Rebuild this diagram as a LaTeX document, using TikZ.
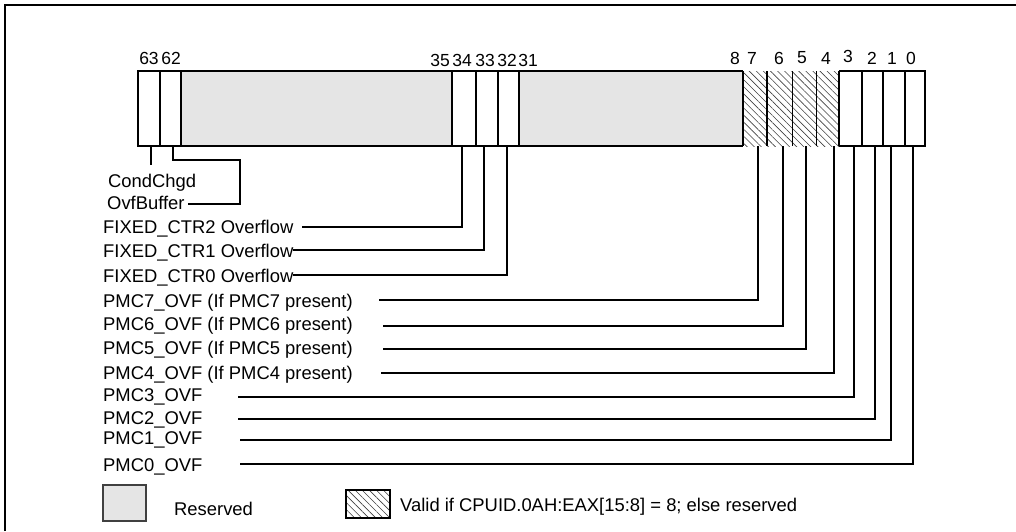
\documentclass[tikz,border=0pt]{standalone}
\usepackage{fontspec}
\setmainfont{Liberation Sans}
\usetikzlibrary{patterns.meta}

\tikzset{
    lbl/.style={anchor=base west, inner sep=0pt, font=\fontsize{18.4}{22}\selectfont},
    bitno/.style={inner sep=0pt, font=\fontsize{17.5}{20}\selectfont},
    leader/.style={line width=1.8pt},
    reg/.style={line width=1.8pt},
    resv/.style={fill=black!10},
    hatch/.style={pattern={Lines[angle=-45, distance=5pt, line width=0.6pt]}, pattern color=black!75}
}

\begin{document}
\begin{tikzpicture}[x=1pt, y=-1pt]
    \useasboundingbox (0,0) rectangle (1016,531);
    % Vẽ khung
    \draw[line width=1.8pt] (5,531) -- (5,5) -- (1016,5);

    % Vẽ thanh ghi
    \fill[resv] (181,71) rectangle (452,146);
    \fill[resv] (519,71) rectangle (743,146);
    \fill[hatch] (743,71) rectangle (839,146);
    \draw[reg] (743,71) -- (138,71) -- (138,146) -- (743,146);
    \draw[reg] (839,71) -- (925,71) -- (925,146) -- (839,146);
    \foreach \x in {160,181,452,476,498,519,743,767,839,862,883,905}
        \draw[reg] (\x,71) -- (\x,146);
    \foreach \x in {792,816}
        \draw[line width=0.9pt] (\x,71) -- (\x,146);

    % Số bit
    \foreach \b/\x/\y in {63/149/58, 62/171/58, 35/440/60, 34/462/60, 33/485/60,
        32/507/60, 31/528/60, 8/735/58, 7/752/58, 6/779/58, 5/802/58, 4/826/58,
        3/848/56, 2/872/58, 1/892/58, 0/911/58}
        \node[bitno] (n\b) at (\x,\y) {\b};

    % Nhãn
    \node[lbl] (condchgd) at (108,187) {CondChgd};
    \node[lbl] (ovfbuf) at (107,209) {OvfBuffer};
    \node[lbl] (fix2) at (103,233) {FIXED\_CTR2 Overflow};
    \node[lbl] (fix1) at (103,257) {FIXED\_CTR1 Overflow};
    \node[lbl] (fix0) at (103,282) {FIXED\_CTR0 Overflow};
    \node[lbl] (pmc7) at (103,307) {PMC7\_OVF (If PMC7 present)};
    \node[lbl] (pmc6) at (103,330) {PMC6\_OVF (If PMC6 present)};
    \node[lbl] (pmc5) at (103,354) {PMC5\_OVF (If PMC5 present)};
    \node[lbl] (pmc4) at (103,379) {PMC4\_OVF (If PMC4 present)};
    \node[lbl] (pmc3) at (103,401) {PMC3\_OVF};
    \node[lbl] (pmc2) at (103,424) {PMC2\_OVF};
    \node[lbl] (pmc1) at (103,444) {PMC1\_OVF};
    \node[lbl] (pmc0) at (103,471) {PMC0\_OVF};

    % Đường dẫn
    \coordinate (b63) at (151,146);
    \coordinate (t63) at (151,165);
    \draw[leader] (b63) -- (t63);
    \coordinate (b62) at (173,146);
    \coordinate (k62) at (240,160);
    \coordinate (t62) at (188,204);
    \draw[leader] (b62) |- (k62) |- (t62);
    \foreach \b/\x/\y/\s in {34/462/227/302, 33/484/250/293, 32/507/275/293,
        7/758/300/379, 6/783/326/383, 5/806/349/383, 4/834/373/381,
        3/854/397/238, 2/875/419/238, 1/891/440/240, 0/913/464/240}
    {
        \coordinate (b\b) at (\x,146);
        \coordinate (t\b) at (\s,\y);
        \draw[leader] (b\b) |- (t\b);
    }

    % Chú thích
    \draw[line width=1.6pt, draw=black!75, resv] (103,485) rectangle (146,521);
    \node[lbl] (resvtext) at (174,515) {Reserved};
    \draw[hatch, line width=1.1pt] (346,490) rectangle (390,518);
    \node[lbl] (validtext) at (400,511) {Valid if CPUID.0AH:EAX[15:8] = 8; else reserved};
\end{tikzpicture}
\end{document}
